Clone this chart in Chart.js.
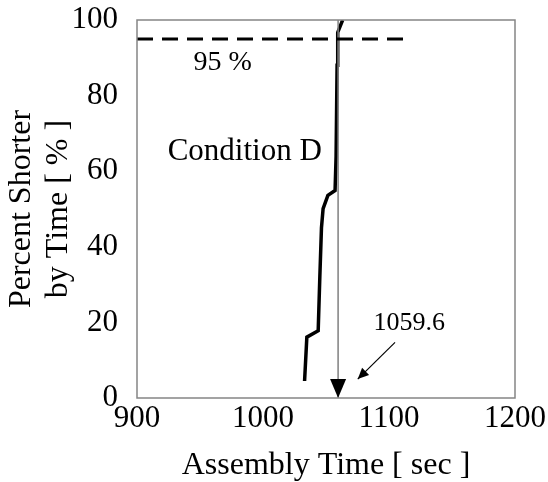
<!DOCTYPE html>
<html>
<head>
<meta charset="utf-8">
<script src="https://cdn.jsdelivr.net/npm/chart.js@4/dist/chart.umd.min.js"></script>
<style>
  body { margin: 0; background: #fff; }
  #wrap { width: 548px; height: 482px; }
</style>
</head>
<body>
<div id="wrap"><canvas id="cdf" width="548" height="482"></canvas></div>
<script>
// cumulative curve, condition D
const timeSec = [1033, 1034.8, 1043.8, 1045.1, 1046.4, 1047.7, 1051.5, 1057.2, 1058, 1058.8, 1059.3, 1063.2];
const percentShorter = [4.5, 16.1, 17.8, 32, 45, 50.1, 53.6, 54.9, 63.9, 88, 96.7, 100];

// 95 % level line
const levelX = [900, 1112];
const levelY = [95, 95];

// 95 % time marker
const markTime = 1059.6;
const markY = [100, 0];

// annotation pointer (from label toward marker)
const pointerX = [1104.8, 1075.2];
const pointerY = [14.7, 5.0];

const xTicks = [900, 1000, 1100, 1200];
const yTicks = [0, 20, 40, 60, 80, 100];

const labels = [
  { text: '95 %', x: 968, y: 88.6, size: 28 },
  { text: 'Condition D', x: 985.5, y: 65, size: 31 },
  { text: '1059.6', x: 1116, y: 19.8, size: 26 }
];

const serif = '"Liberation Serif", "Times New Roman", serif';

function pts(xs, ys) { return xs.map((x, i) => ({ x: x, y: ys[i] })); }

function arrowHead(ctx, x0, y0, x1, y1, len, half) {
  const a = Math.atan2(y1 - y0, x1 - x0);
  ctx.beginPath();
  ctx.moveTo(x1, y1);
  ctx.lineTo(x1 - len * Math.cos(a) + half * Math.sin(a), y1 - len * Math.sin(a) - half * Math.cos(a));
  ctx.lineTo(x1 - len * Math.cos(a) - half * Math.sin(a), y1 - len * Math.sin(a) + half * Math.cos(a));
  ctx.closePath();
  ctx.fill();
}

const extras = {
  id: 'extras',
  afterDatasetsDraw(chart) {
    const ctx = chart.ctx, xs = chart.scales.x, ys = chart.scales.y, a = chart.chartArea;
    ctx.save();
    ctx.fillStyle = '#000';
    // marker arrow head
    arrowHead(ctx, xs.getPixelForValue(markTime), ys.getPixelForValue(markY[0]),
      xs.getPixelForValue(markTime), ys.getPixelForValue(markY[1]), 19, 8);
    // pointer arrow head
    arrowHead(ctx, xs.getPixelForValue(pointerX[0]), ys.getPixelForValue(pointerY[0]),
      xs.getPixelForValue(pointerX[1]), ys.getPixelForValue(pointerY[1]), 11, 5);
    // labels
    ctx.textAlign = 'center';
    ctx.textBaseline = 'middle';
    labels.forEach(l => {
      ctx.font = l.size + 'px ' + serif;
      ctx.fillText(l.text, xs.getPixelForValue(l.x), ys.getPixelForValue(l.y));
    });
    // frame
    ctx.strokeStyle = '#858585';
    ctx.lineWidth = 1.5;
    ctx.strokeRect(a.left, a.top, a.right - a.left, a.bottom - a.top);
    ctx.restore();
  }
};

new Chart(document.getElementById('cdf'), {
  type: 'scatter',
  data: {
    datasets: [
      {
        data: pts(levelX, levelY),
        showLine: true,
        borderColor: '#000',
        borderWidth: 3,
        borderDash: [16, 9],
        pointRadius: 0
      },
      {
        data: pts([markTime, markTime], markY),
        showLine: true,
        borderColor: '#808080',
        borderWidth: 1.5,
        pointRadius: 0
      },
      {
        data: pts(pointerX, pointerY),
        showLine: true,
        borderColor: '#000',
        borderWidth: 1.2,
        pointRadius: 0
      },
      {
        data: pts(timeSec, percentShorter),
        showLine: true,
        borderColor: '#000',
        borderWidth: 3.5,
        pointRadius: 0,
        tension: 0
      }
    ]
  },
  options: {
    responsive: false,
    animation: false,
    layout: { padding: { top: 20, right: 32, left: 0, bottom: 0 } },
    plugins: { legend: { display: false }, tooltip: { enabled: false } },
    scales: {
      x: {
        type: 'linear',
        min: 900, max: 1200,
        afterBuildTicks: s => { s.ticks = xTicks.map(v => ({ value: v })); },
        afterFit: s => { s.height = 84; },
        grid: { display: false, drawTicks: false },
        border: { display: false },
        ticks: { color: '#000', padding: 2, maxRotation: 0, callback: v => String(v), font: { family: serif, size: 31 } },
        title: {
          display: true,
          text: 'Assembly Time [ sec ]',
          color: '#000',
          padding: { top: 0, bottom: -3 },
          font: { family: serif, size: 32 }
        }
      },
      y: {
        min: 0, max: 100,
        afterBuildTicks: s => { s.ticks = yTicks.map(v => ({ value: v })); },
        afterFit: s => { s.width = 137; s.paddingTop = 0; s.paddingBottom = 0; },
        grid: { display: false, drawTicks: false },
        border: { display: false },
        ticks: { color: '#000', padding: 19, callback: v => String(v), font: { family: serif, size: 31 } },
        title: {
          display: true,
          text: ['Percent Shorter', 'by Time [ % ]'],
          color: '#000',
          padding: { top: 3, bottom: 0 },
          font: { family: serif, size: 32, lineHeight: 1.15 }
        }
      }
    }
  },
  plugins: [extras]
});
</script>
</body>
</html>
